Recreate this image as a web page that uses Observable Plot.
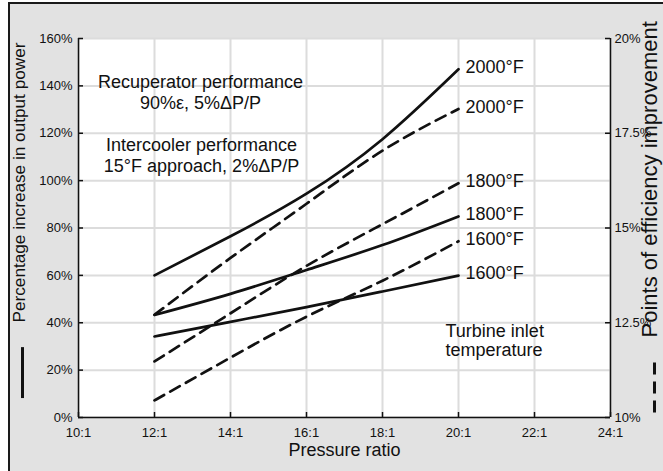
<!DOCTYPE html>
<html><head><meta charset="utf-8">
<script src="https://cdn.jsdelivr.net/npm/d3@7"></script>
<script src="https://cdn.jsdelivr.net/npm/@observablehq/plot@0.6"></script>
<style>
html,body{margin:0;padding:0;background:#fff;}
#wrap{position:relative;width:663px;height:471px;overflow:hidden;}
#bg{position:absolute;left:8px;top:2px;width:700px;height:520px;background:#e2e2e2;border-left:2px solid #1a1a1a;border-top:2px solid #1a1a1a;}
#chart{position:absolute;left:0;top:0;}
</style></head><body>
<div id="wrap"><div id="bg"></div><div id="chart"></div></div>
<script>
// Pressure ratios (x:1)
const ratios = [12, 14, 16, 18, 20];
// Percentage increase in output power (solid lines, left axis)
const power2000 = [60, 76.5, 94.5, 117.5, 147];
const power1800 = [43.3, 52.2, 62.3, 72.8, 84.9];
const power1600 = [34.2, 40.4, 46.6, 53.2, 59.9];
// Points of efficiency improvement (dashed lines, right axis, %)
const eff2000 = [12.71, 14.21, 15.64, 17.04, 18.14];
const eff1800 = [11.48, 12.75, 14.0, 15.1, 16.18];
const eff1600 = [10.45, 11.58, 12.66, 13.61, 14.65];
const temps = ["2000°F", "1800°F", "1600°F"];

const xTicks = [10, 12, 14, 16, 18, 20, 22, 24];
const powerTicks = [0, 20, 40, 60, 80, 100, 120, 140, 160];
const effTicks = [10, 12.5, 15, 17.5, 20];
const effTickLabels = ["10%", "12.5%", "15%", "17.5%", "20%"];

const xLabel = "Pressure ratio";
const powerLabel = "Percentage increase in output power";
const effLabel = "Points of efficiency improvement";
const noteRecuperator = ["Recuperator performance", "90%ε, 5%ΔP/P"];
const noteIntercooler = ["Intercooler performance", "15°F approach, 2%ΔP/P"];
const noteTurbine = ["Turbine inlet", "temperature"];

// map efficiency (10–20 %) onto power scale (0–160 %)
const effToPower = v => (v - 10) * 16;

const solidSeries = [power2000, power1800, power1600];
const dashedSeries = [eff2000, eff1800, eff1600];
const solid = [], dashed = [], ends = [];
temps.forEach((t, k) => {
  ratios.forEach((r, i) => {
    solid.push({temp: t, x: r, y: solidSeries[k][i]});
    dashed.push({temp: t, x: r, y: effToPower(dashedSeries[k][i])});
  });
  const n = ratios.length - 1;
  ends.push({temp: t, x: ratios[n], y: solidSeries[k][n]});
  ends.push({temp: t, x: ratios[n], y: effToPower(dashedSeries[k][n])});
});

const W = 663, H = 471, mL = 78, mR = 53, mT = 38, mB = 54;
const pw = W - mL - mR, ph = H - mT - mB;
const ink = "#111";
const grid = "#dcdcdc";
const effLabelMap = new Map(effTicks.map((v, i) => [effToPower(v), effTickLabels[i]]));

const chart = Plot.plot({
  width: W, height: H,
  marginLeft: mL, marginRight: mR, marginTop: mT, marginBottom: mB,
  style: {background: "transparent", fontFamily: "'Liberation Sans', Arial, sans-serif", fontSize: "13px", color: ink},
  x: {domain: [10, 24]},
  y: {domain: [0, 160]},
  marks: [
    Plot.frame({fill: "white", stroke: null}),
    Plot.gridX(xTicks, {stroke: grid, strokeWidth: 2, strokeOpacity: 1}),
    Plot.gridY(powerTicks, {stroke: grid, strokeWidth: 2, strokeOpacity: 1}),
    Plot.ruleX([xTicks[0], xTicks[xTicks.length - 1]], {stroke: ink, strokeWidth: 1.5}),
    Plot.ruleY([powerTicks[0]], {stroke: ink, strokeWidth: 1.5}),
    Plot.tickX(xTicks, {x: d => d, insetTop: ph - 5, stroke: ink, strokeWidth: 1.5}),
    Plot.tickY(powerTicks, {y: d => d, insetRight: pw - 5, stroke: ink, strokeWidth: 1.5}),
    Plot.tickY(effTicks.map(effToPower), {y: d => d, insetLeft: pw - 5, stroke: ink, strokeWidth: 1.5}),
    Plot.axisX(xTicks, {tickSize: 0, tickPadding: 10, tickFormat: d => d + ":1", fontSize: 13, label: null}),
    Plot.axisY(powerTicks, {anchor: "left", tickSize: 0, tickPadding: 6, tickFormat: d => d + "%", fontSize: 13, label: null}),
    Plot.axisY(effTicks.map(effToPower), {anchor: "right", tickSize: 0, tickPadding: 4, tickFormat: d => effLabelMap.get(d), fontSize: 13, label: null}),
    Plot.line(solid, {x: "x", y: "y", z: "temp", curve: "natural", stroke: ink, strokeWidth: 2.7}),
    Plot.line(dashed, {x: "x", y: "y", z: "temp", curve: "natural", stroke: ink, strokeWidth: 2.7, strokeDasharray: "11,7"}),
    Plot.text(ends, {x: "x", y: "y", text: "temp", dx: 7, dy: -2, textAnchor: "start", fontSize: 18, fill: ink}),
    Plot.text([noteRecuperator.join("\n")], {frameAnchor: "top-left", dx: 122, dy: 34.5, textAnchor: "middle", lineHeight: 1.17, fontSize: 18, fill: ink}),
    Plot.text([noteIntercooler.join("\n")], {frameAnchor: "top-left", dx: 123, dy: 97.5, textAnchor: "middle", lineHeight: 1.17, fontSize: 18, fill: ink}),
    Plot.text([noteTurbine.join("\n")], {frameAnchor: "top-left", dx: 367, dy: 284, textAnchor: "start", lineHeight: 1.1, fontSize: 18, fill: ink}),
    Plot.text([xLabel], {frameAnchor: "bottom", dy: 38, fontSize: 18, fill: ink}),
    Plot.text([powerLabel], {frameAnchor: "bottom-left", dx: -54, dy: -95, rotate: -90, textAnchor: "start", fontSize: 17.2, fill: ink}),
    Plot.text([effLabel], {frameAnchor: "bottom-right", dx: 46, dy: -80, rotate: -90, textAnchor: "start", fontSize: 22, fill: ink}),
    // legend keys beside the axis titles
    Plot.ruleX([xTicks[0]], {y1: 29.5, y2: 8, dx: -56, stroke: ink, strokeWidth: 3}),
    Plot.ruleX([xTicks[xTicks.length - 1]], {y1: 23, y2: 0, dx: 44, stroke: ink, strokeWidth: 3, strokeDasharray: "12,7"})
  ]
});
document.getElementById("chart").appendChild(chart);
</script>
</body></html>
